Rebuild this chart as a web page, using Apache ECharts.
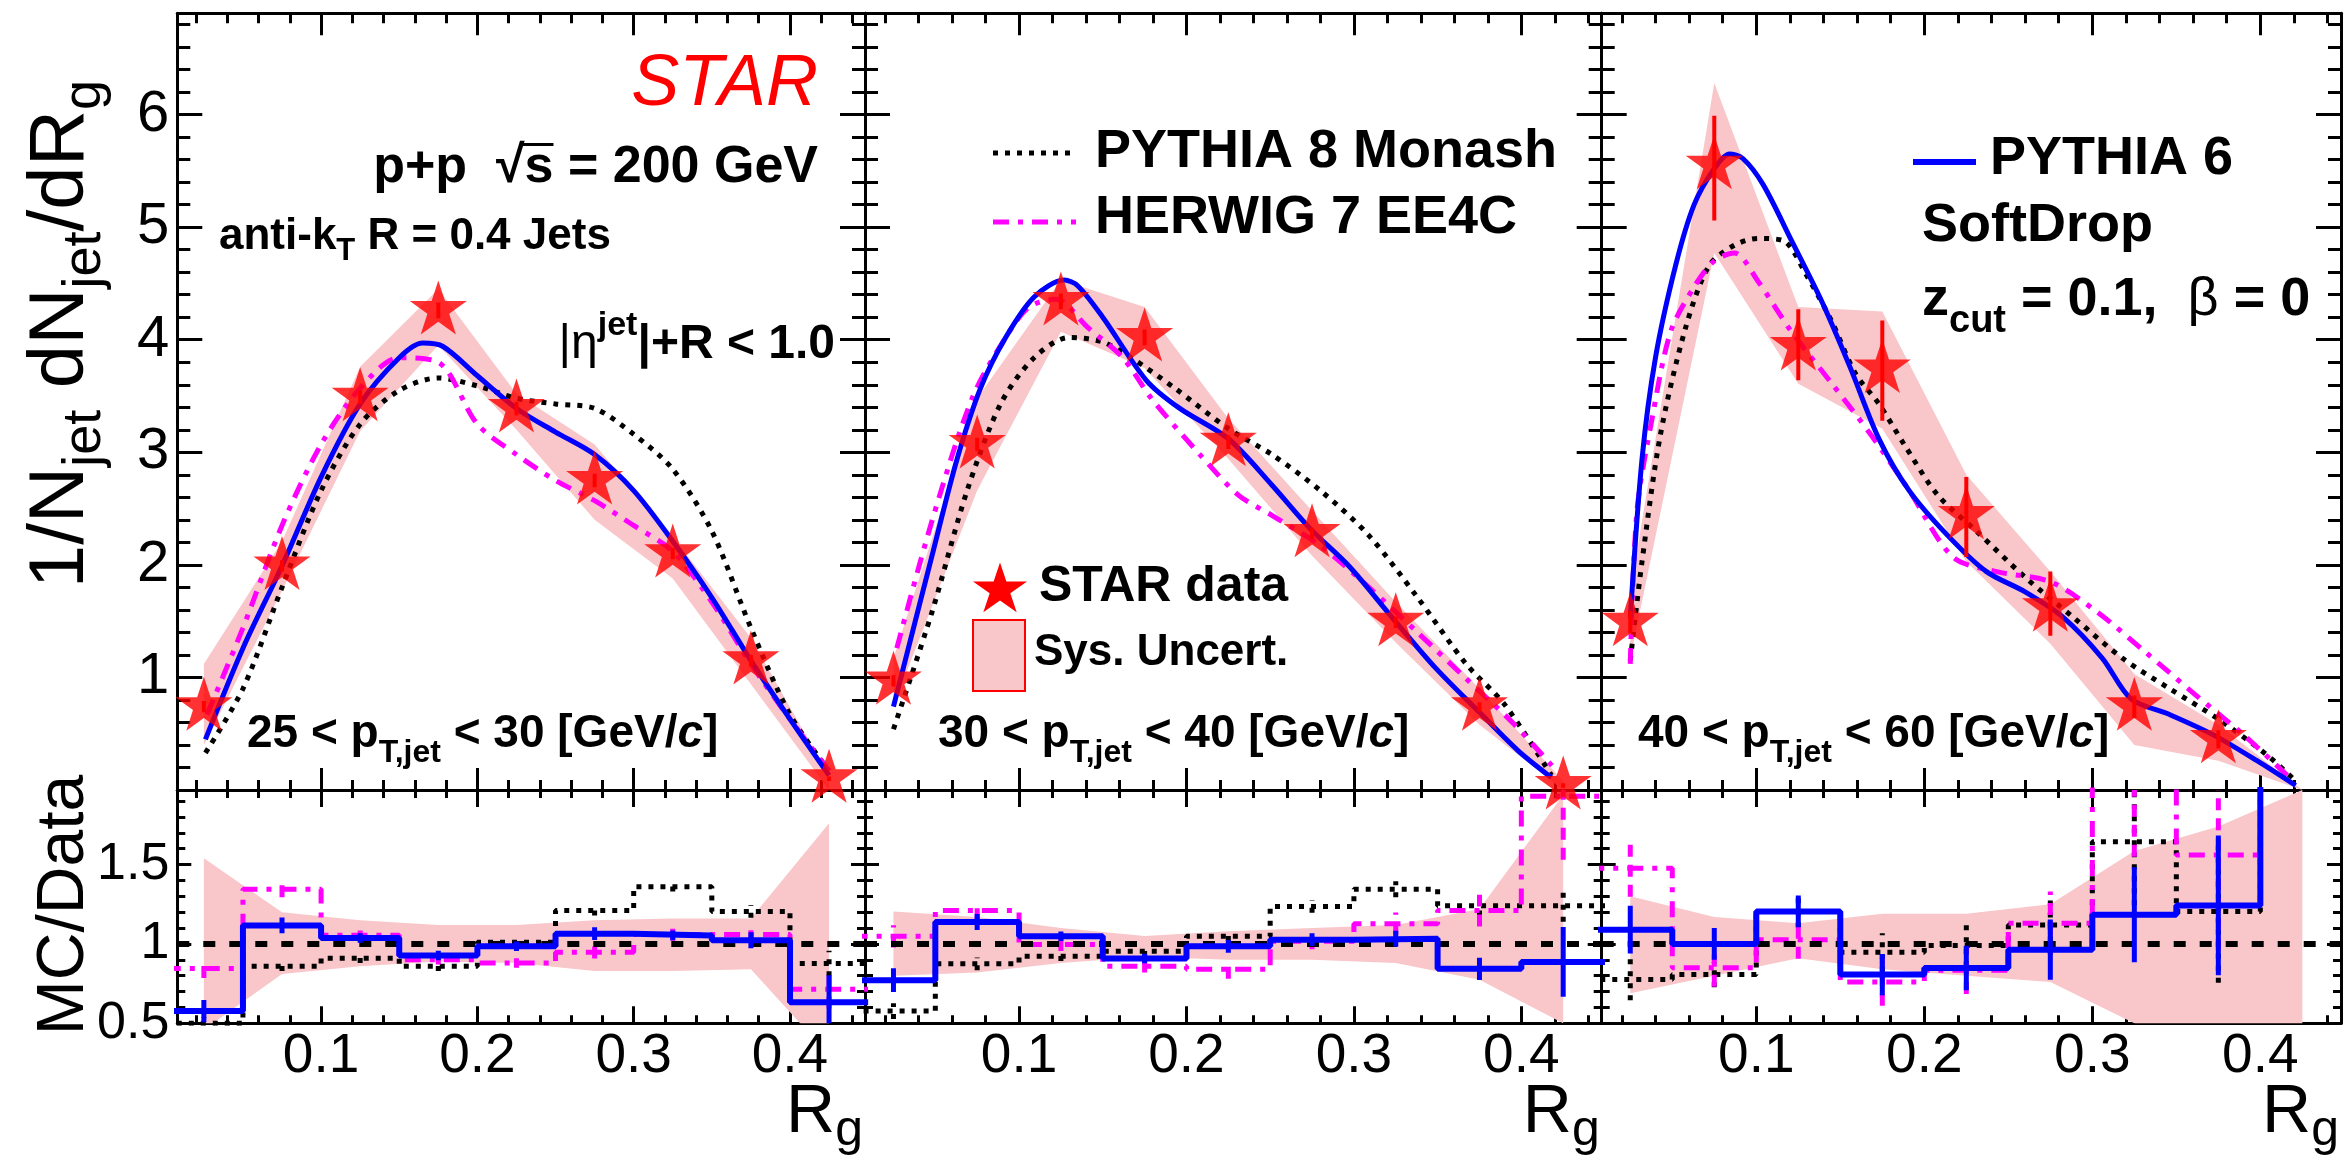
<!DOCTYPE html>
<html>
<head>
<meta charset="utf-8">
<script src="https://cdn.jsdelivr.net/npm/echarts@6/dist/echarts.min.js"></script>
<style>
html,body{margin:0;padding:0;background:#fff;}
#chart{width:2351px;height:1156px;}
</style>
</head>
<body>
<div id="chart"></div>
<script>
// ---- axis ranges and tick positions ----
const X_MIN = 0.008, X_MAX = 0.448;
const xMajor = [0.1, 0.2, 0.3, 0.4];
const xMinor = [0.02, 0.04, 0.06, 0.08, 0.12, 0.14, 0.16, 0.18, 0.22, 0.24, 0.26, 0.28, 0.32, 0.34, 0.36, 0.38, 0.42, 0.44];
const yTopMajor = [1, 2, 3, 4, 5, 6];
const yTopMinor = [0.2, 0.4, 0.6, 0.8, 1.2, 1.4, 1.6, 1.8, 2.2, 2.4, 2.6, 2.8, 3.2, 3.4, 3.6, 3.8, 4.2, 4.4, 4.6, 4.8, 5.2, 5.4, 5.6, 5.8, 6.2, 6.4, 6.6, 6.8];
const yRatMajor = [0.5, 1, 1.5];
const yRatMinor = [0.6, 0.7, 0.8, 0.9, 1.1, 1.2, 1.3, 1.4, 1.6, 1.7, 1.8, 1.9];

// ---- R_g binning ----
const binCenters = [0.025, 0.075, 0.125, 0.175, 0.225, 0.275, 0.325, 0.375, 0.425];
const binEdges = [0, 0.05, 0.1, 0.15, 0.2, 0.25, 0.3, 0.35, 0.4, 0.45];

// ---- STAR data: 25 < pT < 30 ----
const data1 = [0.74, 1.99, 3.49, 4.26, 3.39, 2.75, 2.10, 1.15, 0.10];
const stat1 = [0.05, 0.05, 0.06, 0.07, 0.06, 0.06, 0.05, 0.05, 0.02];
const sysHi1 = [1.12, 2.21, 3.76, 4.45, 3.52, 3.07, 2.25, 1.35, 0.12];
const sysLo1 = [0.40, 1.77, 3.19, 3.95, 3.20, 2.40, 1.88, 0.94, 0.00];
// ---- STAR data: 30 < pT < 40 ----
const data2 = [0.97, 3.07, 4.34, 4.02, 3.09, 2.28, 1.49, 0.74, 0.04];
const stat2 = [0.05, 0.06, 0.07, 0.07, 0.06, 0.05, 0.05, 0.04, 0.02];
const sysHi2 = [1.17, 3.48, 4.53, 4.29, 3.30, 2.48, 1.67, 0.90, 0.08];
const sysLo2 = [0.75, 2.66, 4.07, 3.75, 2.94, 2.08, 1.31, 0.58, 0.00];
// ---- STAR data: 40 < pT < 60 ----
const data3 = [1.49, 5.55, 3.94, 3.74, 2.44, 1.62, 0.74, 0.45];
const statUp3 = [0.10, 0.44, 0.33, 0.43, 0.34, 0.32, 0.10, 0.08];
const statDn3 = [0.10, 0.49, 0.30, 0.46, 0.37, 0.25, 0.10, 0.08];
const sysHi3 = [1.76, 6.28, 4.29, 4.25, 2.80, 1.94, 1.03, 0.58, 0.00];
const sysLo3 = [1.17, 4.77, 3.61, 3.21, 2.03, 1.30, 0.40, 0.26, 0.00];

// ---- model curves [R_g, 1/N dN/dR_g] ----
const pythia6_1 = [[0.026,0.45],[0.05,1.26],[0.075,1.99],[0.1,2.78],[0.125,3.43],[0.15,3.84],[0.165,3.97],[0.178,3.94],[0.2,3.68],[0.225,3.39],[0.25,3.18],[0.275,2.98],[0.3,2.66],[0.325,2.21],[0.35,1.71],[0.375,1.15],[0.4,0.63],[0.425,0.13]];
const pythia8_1 = [[0.026,0.33],[0.05,0.9],[0.075,1.8],[0.1,2.66],[0.125,3.25],[0.15,3.55],[0.175,3.66],[0.2,3.59],[0.225,3.48],[0.25,3.43],[0.275,3.39],[0.3,3.16],[0.325,2.85],[0.35,2.3],[0.375,1.44],[0.4,0.67],[0.425,0.17]];
const herwig_1 = [[0.027,0.67],[0.05,1.44],[0.075,2.35],[0.1,3.07],[0.125,3.57],[0.15,3.84],[0.175,3.8],[0.2,3.25],[0.225,2.98],[0.25,2.75],[0.275,2.57],[0.3,2.35],[0.325,2.12],[0.35,1.67],[0.375,1.12],[0.4,0.63],[0.425,0.17]];

const pythia6_2 = [[0.025,0.74],[0.048,2.08],[0.063,2.94],[0.077,3.57],[0.092,4.02],[0.109,4.38],[0.127,4.53],[0.135,4.48],[0.15,4.2],[0.176,3.64],[0.196,3.39],[0.225,3.12],[0.251,2.71],[0.274,2.32],[0.297,1.99],[0.323,1.53],[0.349,1.08],[0.375,0.69],[0.398,0.35],[0.418,0.11]];
const pythia8_2 = [[0.025,0.54],[0.048,1.58],[0.069,2.66],[0.089,3.43],[0.109,3.84],[0.13,4.02],[0.15,3.98],[0.167,3.84],[0.193,3.57],[0.225,3.21],[0.251,2.98],[0.28,2.66],[0.309,2.26],[0.338,1.71],[0.367,1.12],[0.39,0.76],[0.418,0.13]];
const herwig_2 = [[0.027,1.26],[0.048,2.39],[0.072,3.48],[0.092,4.02],[0.106,4.29],[0.122,4.36],[0.141,4.11],[0.162,3.84],[0.179,3.48],[0.208,2.98],[0.231,2.62],[0.251,2.44],[0.28,2.17],[0.309,1.8],[0.338,1.4],[0.367,0.99],[0.396,0.58],[0.421,0.17]];

const pythia6_3 = [[0.025,1.53],[0.032,2.94],[0.04,3.84],[0.052,4.66],[0.063,5.2],[0.075,5.52],[0.084,5.65],[0.092,5.61],[0.104,5.38],[0.121,4.88],[0.139,4.34],[0.156,3.75],[0.173,3.12],[0.191,2.66],[0.214,2.26],[0.237,1.94],[0.26,1.76],[0.283,1.53],[0.306,1.17],[0.323,0.81],[0.346,0.67],[0.372,0.49],[0.398,0.26],[0.421,0.04]];
const pythia8_3 = [[0.025,1.15],[0.032,2.03],[0.043,3.16],[0.058,4.11],[0.072,4.66],[0.087,4.84],[0.101,4.9],[0.116,4.88],[0.13,4.57],[0.145,4.16],[0.159,3.7],[0.173,3.43],[0.188,3.07],[0.208,2.62],[0.231,2.3],[0.26,1.89],[0.289,1.53],[0.318,1.17],[0.346,0.9],[0.375,0.63],[0.404,0.31],[0.421,0.08]];
const herwig_3 = [[0.025,1.12],[0.029,2.48],[0.038,3.3],[0.049,4.07],[0.063,4.47],[0.075,4.7],[0.087,4.77],[0.101,4.52],[0.121,4.07],[0.145,3.61],[0.168,3.16],[0.191,2.66],[0.217,2.07],[0.243,1.94],[0.275,1.85],[0.303,1.58],[0.332,1.22],[0.361,0.85],[0.39,0.49],[0.416,0.13]];

// ---- MC / Data ratios per bin ----
const ratP6_1 = [0.577, 1.117, 1.038, 0.927, 0.985, 1.065, 1.054, 1.023, 0.633];
const ratP6err_1 = [0.07, 0.05, 0.03, 0.03, 0.03, 0.04, 0.03, 0.05, 0.17];
const ratP8_1 = [0.50, 0.86, 0.91, 0.86, 1.01, 1.21, 1.36, 1.205, 0.877];
const ratP8err_1 = [0.04, 0.03, 0.03, 0.03, 0.03, 0.03, 0.03, 0.04, 0.08];
const ratHW_1 = [0.845, 1.345, 1.055, 0.90, 0.88, 0.948, 1.06, 1.06, 0.714];
const ratHWerr_1 = [0.06, 0.05, 0.03, 0.03, 0.03, 0.04, 0.04, 0.05, 0.12];
const ratSysHi_1 = [1.54, 1.2, 1.15, 1.12, 1.12, 1.15, 1.16, 1.16, 1.76];
const ratSysLo_1 = [0.46, 0.81, 0.86, 0.89, 0.88, 0.83, 0.83, 0.84, 0.30];

const ratP6_2 = [0.772, 1.138, 1.048, 0.908, 0.985, 1.027, 1.033, 0.843, 0.887];
const ratP6err_2 = [0.075, 0.05, 0.03, 0.03, 0.04, 0.04, 0.05, 0.07, 0.22];
const ratP8_2 = [0.577, 0.875, 0.923, 0.954, 1.048, 1.236, 1.345, 1.24, 1.24];
const ratP8err_2 = [0.05, 0.04, 0.03, 0.03, 0.03, 0.04, 0.05, 0.06, 0.10];
const ratHW_2 = [1.048, 1.21, 0.996, 0.86, 0.84, 1.017, 1.128, 1.21, 1.93];
const ratHWerr_2 = [0.07, 0.06, 0.04, 0.04, 0.06, 0.05, 0.07, 0.10, 0.40];
const ratSysHi_2 = [1.205, 1.17, 1.10, 1.05, 1.08, 1.10, 1.12, 1.22, 1.94];
const ratSysLo_2 = [0.80, 0.82, 0.88, 0.92, 0.90, 0.90, 0.88, 0.775, 0.50];

const ratP6_3 = [1.09, 1.0, 1.205, 0.807, 0.849, 0.964, 1.184, 1.243, 2.5];
const ratP6err_3 = [0.15, 0.10, 0.10, 0.13, 0.14, 0.19, 0.30, 0.44, 0];
const ratP8_3 = [0.776, 0.807, 1.205, 0.948, 0.99, 1.12, 1.644, 1.205, 2.5];
const ratP8err_3 = [0.13, 0.08, 0.10, 0.12, 0.13, 0.18, 0.40, 0.45, 0];
const ratHW_3 = [1.477, 0.85, 1.027, 0.76, 0.835, 1.13, 2.05, 1.56, 2.5];
const ratHWerr_3 = [0.18, 0.12, 0.12, 0.15, 0.15, 0.20, 0.50, 0.60, 0];
const ratSysHi_3 = [1.30, 1.17, 1.13, 1.19, 1.19, 1.25, 1.585, 1.74, 1.97];
const ratSysLo_3 = [0.69, 0.80, 0.91, 0.84, 0.80, 0.76, 0.50, 0.20, 0.00];

// ---- styling ----
const FONT = '"Liberation Sans", Arial, Helvetica, sans-serif';
const PINK = '#f9c6ca';
const RED = '#ff0000', BLUE = '#0000ff', MAGENTA = '#ff00ff', BLACK = '#000000';
const DOT = [5, 7], DASHDOT = [16, 9, 5, 9];
const STAR_SYMBOL = 'path://M50,0L61.2,34.5L97.6,34.5L68.2,55.9L79.4,90.5L50,69.1L20.6,90.5L31.8,55.9L2.4,34.5L38.8,34.5Z';

// pad geometry (pixels)
const PANEL_X = [[177.3, 687.7], [865, 736.7], [1601.7, 739.3]];
const TOP_PAD = [13.3, 776.7];
const RAT_PAD = [790, 233.3];

const grids = [], xAxes = [], yAxes = [], series = [];

function addPad(left, width, top, height, isTop, xLabels, yLabels) {
  const g = grids.length;
  grids.push({ left, top, width, height, containLabel: false });
  const xi = xAxes.length, yi = yAxes.length;
  const xMajLen = isTop ? 22 : 17, xMinLen = isTop ? 10 : 8;
  const yMajLen = isTop ? 25 : 14, yMinLen = isTop ? 13 : 8;
  const yMaj = isTop ? yTopMajor : yRatMajor;
  const yMin = isTop ? yTopMinor : yRatMinor;
  const tickStyle = { color: BLACK, width: 3 };
  [['bottom', true], ['bottom', false], ['top', true], ['top', false]].forEach(([pos, major]) => {
    xAxes.push({
      gridIndex: g, type: 'value', position: pos, min: X_MIN, max: X_MAX,
      axisLine: { show: major, onZero: false, lineStyle: { color: BLACK, width: 3 } },
      axisTick: { show: true, inside: true, length: major ? xMajLen : xMinLen,
                  customValues: major ? xMajor : xMinor, lineStyle: tickStyle },
      axisLabel: { show: major && pos === 'bottom' && xLabels, customValues: xMajor,
                   formatter: v => v.toFixed(1), fontSize: 55, fontFamily: FONT, color: BLACK, margin: 6 },
      splitLine: { show: false }
    });
  });
  [['left', true], ['left', false], ['right', true], ['right', false]].forEach(([pos, major]) => {
    yAxes.push({
      gridIndex: g, type: 'value', position: pos,
      min: isTop ? 0 : 0.5, max: isTop ? 6.9 : 1.97,
      axisLine: { show: major, onZero: false, lineStyle: { color: BLACK, width: 3 } },
      axisTick: { show: true, inside: true, length: major ? yMajLen : yMinLen,
                  customValues: major ? yMaj : yMin, lineStyle: tickStyle },
      axisLabel: { show: major && pos === 'left' && yLabels, customValues: yMaj,
                   fontSize: isTop ? 58 : 52, fontFamily: FONT, color: BLACK, margin: 8 },
      splitLine: { show: false }
    });
  });
  return { xi, yi };
}

function bandSeries(ax, xs, lo, hi, z) {
  return {
    type: 'custom', xAxisIndex: ax.xi, yAxisIndex: ax.yi, clip: true, silent: true, z,
    data: [[0.2, 1]],
    renderItem: (params, api) => {
      const pts = [];
      for (let i = 0; i < lo.length; i++) pts.push(api.coord([xs[i], hi[i]]));
      for (let i = lo.length - 1; i >= 0; i--) pts.push(api.coord([xs[i], lo[i]]));
      return { type: 'polygon', shape: { points: pts }, style: { fill: PINK } };
    }
  };
}

function errSeries(ax, xs, vals, up, dn, color, width, dash, z) {
  return {
    type: 'custom', xAxisIndex: ax.xi, yAxisIndex: ax.yi, clip: true, silent: true, z,
    encode: { x: 0, y: [1, 2] },
    data: vals.map((v, i) => [xs[i], v - dn[i], v + up[i]]),
    renderItem: (params, api) => {
      const a = api.coord([api.value(0), api.value(1)]);
      const b = api.coord([api.value(0), api.value(2)]);
      return { type: 'line', shape: { x1: a[0], y1: a[1], x2: b[0], y2: b[1] },
               style: { stroke: color, lineWidth: width, lineDash: dash || null } };
    }
  };
}

function curveSeries(ax, pts, color, width, dash, z) {
  return {
    type: 'line', xAxisIndex: ax.xi, yAxisIndex: ax.yi, data: pts, smooth: 0.3,
    symbol: 'none', silent: true, z, clip: true,
    lineStyle: { color, width, type: dash || 'solid', cap: 'butt' }
  };
}

function stepSeries(ax, vals, color, width, dash, z, extra) {
  const pts = vals.map((v, i) => [binEdges[i], v]);
  pts.push([binEdges[vals.length], vals[vals.length - 1]]);
  return Object.assign({
    type: 'line', xAxisIndex: ax.xi, yAxisIndex: ax.yi, data: pts, step: 'end',
    symbol: 'none', silent: true, z, clip: true,
    lineStyle: { color, width, type: dash || 'solid', cap: 'butt' }
  }, extra || {});
}

const panels = [
  { data: data1, up: stat1, dn: stat1, sysHi: sysHi1, sysLo: sysLo1,
    p6: pythia6_1, p8: pythia8_1, hw: herwig_1,
    rP6: ratP6_1, rP6e: ratP6err_1, rP8: ratP8_1, rP8e: ratP8err_1, rHW: ratHW_1, rHWe: ratHWerr_1,
    rHi: ratSysHi_1, rLo: ratSysLo_1 },
  { data: data2, up: stat2, dn: stat2, sysHi: sysHi2, sysLo: sysLo2,
    p6: pythia6_2, p8: pythia8_2, hw: herwig_2,
    rP6: ratP6_2, rP6e: ratP6err_2, rP8: ratP8_2, rP8e: ratP8err_2, rHW: ratHW_2, rHWe: ratHWerr_2,
    rHi: ratSysHi_2, rLo: ratSysLo_2 },
  { data: data3, up: statUp3, dn: statDn3, sysHi: sysHi3, sysLo: sysLo3,
    p6: pythia6_3, p8: pythia8_3, hw: herwig_3,
    rP6: ratP6_3, rP6e: ratP6err_3, rP8: ratP8_3, rP8e: ratP8err_3, rHW: ratHW_3, rHWe: ratHWerr_3,
    rHi: ratSysHi_3, rLo: ratSysLo_3 }
];

panels.forEach((p, k) => {
  const [left, width] = PANEL_X[k];
  const top = addPad(left, width, TOP_PAD[0], TOP_PAD[1], true, false, k === 0);
  series.push(bandSeries(top, binCenters, p.sysLo, p.sysHi, 1));
  series.push(curveSeries(top, p.p8, BLACK, 5, DOT, 2));
  series.push(curveSeries(top, p.hw, MAGENTA, 5, DASHDOT, 3));
  series.push(curveSeries(top, p.p6, BLUE, 5, null, 4));
  series.push(errSeries(top, binCenters, p.data, p.up, p.dn, RED, 4, null, 5));
  series.push({
    type: 'scatter', xAxisIndex: top.xi, yAxisIndex: top.yi, silent: true, z: 6,
    data: p.data.map((v, i) => [binCenters[i], v]),
    symbol: STAR_SYMBOL, symbolSize: [57, 54], symbolOffset: [0, -3],
    itemStyle: { color: RED }
  });

  const rat = addPad(left, width, RAT_PAD[0], RAT_PAD[1], false, true, k === 0);
  series.push(bandSeries(rat, binCenters, p.rLo, p.rHi, 1));
  series.push(stepSeries(rat, p.rP8, BLACK, 5, DOT, 3, {
    markLine: { silent: true, symbol: ['none', 'none'], label: { show: false },
                lineStyle: { color: BLACK, width: 6, type: [12, 14] }, data: [{ yAxis: 1 }] }
  }));
  series.push(errSeries(rat, binCenters, p.rP8, p.rP8e, p.rP8e, BLACK, 5, DOT, 3));
  series.push(stepSeries(rat, p.rHW, MAGENTA, 5, DASHDOT, 4));
  series.push(errSeries(rat, binCenters, p.rHW, p.rHWe, p.rHWe, MAGENTA, 5, [12, 8], 4));
  series.push(stepSeries(rat, p.rP6, BLUE, 6, null, 5));
  series.push(errSeries(rat, binCenters, p.rP6, p.rP6e, p.rP6e, BLUE, 5, null, 5));
});

// ---- text layout helpers (baseline-aligned pieces with sub/superscripts) ----
const ctx2d = document.createElement('canvas').getContext('2d');
function fnt(p) { return (p.it ? 'italic ' : '') + (p.b ? 'bold ' : '') + p.s + 'px ' + FONT; }
function measure(p) { ctx2d.font = fnt(p); return ctx2d.measureText(p.t).width; }
function textWidth(pieces) { return pieces.map(measure).reduce((a, b) => a + b, 0); }
function textLine(pieces, x, base, align) {
  const ws = pieces.map(measure);
  const tot = ws.reduce((a, b) => a + b, 0);
  let cx = align === 'right' ? x - tot : (align === 'center' ? x - tot / 2 : x);
  const out = [];
  pieces.forEach((p, i) => {
    out.push({
      type: 'text', x: cx, y: base + (p.dy || 0) - 0.35 * p.s, z: 100,
      style: { text: p.t, font: fnt(p), fill: p.c || BLACK,
               align: 'left', verticalAlign: 'middle', textAlign: 'left', textVerticalAlign: 'middle' }
    });
    if (p.over) {
      const yb = base - p.over * p.s;
      out.push({ type: 'line', z: 100, shape: { x1: cx - 3, y1: yb, x2: cx + ws[i], y2: yb },
                 style: { stroke: BLACK, lineWidth: 3 } });
    }
    cx += ws[i];
  });
  return out;
}
function starPoints(cx, cy, w, h) {
  const pts = [];
  for (let i = 0; i < 10; i++) {
    const a = -Math.PI / 2 + i * Math.PI / 5;
    const r = i % 2 === 0 ? 1 : 0.382;
    pts.push([cx + r * Math.cos(a) * w / 2 / 0.951, cy + 3 + r * Math.sin(a) * h / 2 / 0.905]);
  }
  return pts;
}

const ptPieces = (lo, hi) => [
  { t: lo + ' < p', b: true, s: 46 }, { t: 'T,jet', b: true, s: 32, dy: 14 },
  { t: ' < ' + hi + ' [GeV/', b: true, s: 46 }, { t: 'c', b: true, it: true, s: 46 }, { t: ']', b: true, s: 46 }
];

const graphics = [];
// pad 1 annotations
graphics.push(...textLine([{ t: 'STAR', it: true, s: 72, c: RED }], 818, 110, 'right'));
graphics.push(...textLine([{ t: 'p+p  ', b: true, s: 52 }, { t: '√', b: true, s: 52 },
  { t: 's', b: true, s: 52, over: 0.8 }, { t: ' = 200 GeV', b: true, s: 52 }], 818, 186, 'right'));
graphics.push(...textLine([{ t: 'anti-k', b: true, s: 44 }, { t: 'T', b: true, s: 31, dy: 10 },
  { t: ' R = 0.4 Jets', b: true, s: 44 }], 219, 252, 'left'));
graphics.push(...textLine([{ t: '|', s: 48 }, { t: 'η', s: 48 }, { t: 'jet', b: true, s: 34, dy: -24 },
  { t: '|+R < 1.0', b: true, s: 48 }], 835, 362, 'right'));
graphics.push(...textLine(ptPieces(25, 30), 247, 750, 'left'));
// pad 2 legend
graphics.push({ type: 'line', z: 100, shape: { x1: 993, y1: 153, x2: 1076, y2: 153 },
  style: { stroke: BLACK, lineWidth: 5, lineDash: DOT } });
graphics.push(...textLine([{ t: 'PYTHIA 8 Monash', b: true, s: 54 }], 1095, 171, 'left'));
graphics.push({ type: 'line', z: 100, shape: { x1: 993, y1: 222, x2: 1076, y2: 222 },
  style: { stroke: MAGENTA, lineWidth: 5, lineDash: DASHDOT } });
graphics.push(...textLine([{ t: 'HERWIG 7 EE4C', b: true, s: 54 }], 1095, 237, 'left'));
graphics.push({ type: 'polygon', z: 100, shape: { points: starPoints(1000, 587, 54, 50) }, style: { fill: RED } });
graphics.push(...textLine([{ t: 'STAR data', b: true, s: 50 }], 1039, 605, 'left'));
graphics.push({ type: 'rect', z: 100, shape: { x: 973, y: 620, width: 52, height: 71 },
  style: { fill: PINK, stroke: RED, lineWidth: 2 } });
graphics.push(...textLine([{ t: 'Sys. Uncert.', b: true, s: 44 }], 1034, 668, 'left'));
graphics.push(...textLine(ptPieces(30, 40), 938, 750, 'left'));
// pad 3 legend
graphics.push({ type: 'line', z: 100, shape: { x1: 1913, y1: 162, x2: 1976, y2: 162 },
  style: { stroke: BLUE, lineWidth: 6 } });
graphics.push(...textLine([{ t: 'PYTHIA 6', b: true, s: 54 }], 1990, 178, 'left'));
graphics.push(...textLine([{ t: 'SoftDrop', b: true, s: 54 }], 1922, 245, 'left'));
graphics.push(...textLine([{ t: 'z', b: true, s: 54 }, { t: 'cut', b: true, s: 38, dy: 16 },
  { t: ' = 0.1,  ', b: true, s: 54 }, { t: 'β', s: 54 }, { t: ' = 0', b: true, s: 54 }], 1922, 319, 'left'));
graphics.push(...textLine(ptPieces(40, 60), 1638, 750, 'left'));

// x-axis titles
PANEL_X.forEach(([left, width]) => {
  graphics.push(...textLine([{ t: 'R', s: 68 }, { t: 'g', s: 50, dy: 12 }], left + width - 2, 1137, 'right'));
});

// rotated y-axis titles
const yTitle = [{ t: '1/N', s: 78 }, { t: 'jet', s: 54, dy: 15 }, { t: ' dN', s: 78 },
  { t: 'jet', s: 54, dy: 15 }, { t: '/dR', s: 78 }, { t: 'g', s: 54, dy: 15 }];
graphics.push({ type: 'group', x: 89, y: 80 + textWidth(yTitle), rotation: Math.PI / 2,
  children: textLine(yTitle, 0, 0, 'left') });
graphics.push({ type: 'group', x: 88, y: 905, rotation: Math.PI / 2,
  children: textLine([{ t: 'MC/Data', s: 66 }], 0, 0, 'center') });

const chart = echarts.init(document.getElementById('chart'), null, { renderer: 'canvas' });
chart.setOption({
  animation: false,
  backgroundColor: '#ffffff',
  grid: grids,
  xAxis: xAxes,
  yAxis: yAxes,
  series: series,
  graphic: graphics
});
</script>
</body>
</html>
